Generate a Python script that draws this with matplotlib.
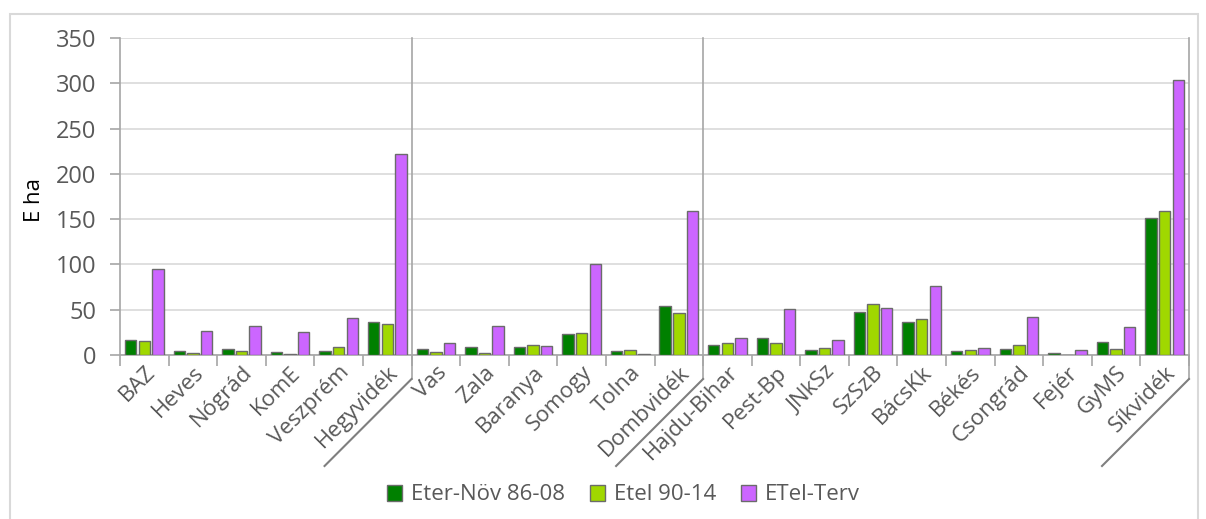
import matplotlib
matplotlib.use("Agg")
import matplotlib.pyplot as plt
import numpy as np
from matplotlib.patches import Rectangle
from matplotlib.lines import Line2D

categories = ["BAZ", "Heves", "Nógrád", "KomE", "Veszprém", "Hegyvidék",
              "Vas", "Zala", "Baranya", "Somogy", "Tolna", "Dombvidék",
              "Hajdu-Bihar", "Pest-Bp", "JNkSz", "SzSzB", "BácsKk", "Békés",
              "Csongrád", "Fejér", "GyMS", "Síkvidék"]
eter_nov = [16.5, 4.8, 6.6, 3.7, 4.8, 36.8,
            6.6, 9.2, 9.2, 23.2, 4.8, 54.4,
            11.4, 18.4, 5.5, 47.0, 36.8, 4.8, 7.0, 2.2, 14.3, 151.0]
etel = [15.8, 2.2, 4.8, 1.1, 8.5, 33.8,
        3.3, 2.2, 11.0, 23.9, 5.5, 46.3,
        13.2, 13.6, 8.1, 56.3, 39.7, 5.9, 11.0, 0.4, 7.0, 159.0]
etel_terv = [95.2, 26.5, 32.0, 25.7, 40.8, 221.5,
             13.6, 31.6, 10.3, 100.4, 0.7, 159.0,
             18.8, 50.7, 16.9, 51.8, 76.1, 7.7, 41.5, 5.5, 31.3, 304.0]
series_names = ["Eter-Növ 86-08", "Etel 90-14", "ETel-Terv"]
group_ends = [5, 11, 21]  # index of group summary categories

colors = ["#008000", "#a0d800", "#cc66ff"]
text_color = "#595959"

plt.rcParams['font.family'] = ['Open Sans', 'DejaVu Sans']

W, H = 1206, 519
fig = plt.figure(figsize=(W / 100, H / 100), dpi=100)
ax = fig.add_axes([120 / W, 1 - 355 / H, (1189 - 120) / W, (355 - 38) / H])

x = np.arange(len(categories))
offset = 0.28
width = 0.235
for k, (vals, c, name) in enumerate(zip([eter_nov, etel, etel_terv], colors, series_names)):
    ax.bar(x + (k - 1) * offset, vals, width, color=c, edgecolor="#6b6b6b",
           linewidth=1.0, label=name, zorder=3)

ax.set_xlim(-0.5, len(categories) - 0.5)
ax.set_ylim(0, 350)
ax.set_yticks(np.arange(0, 351, 50))
ax.yaxis.grid(True, color="#d9d9d9", linewidth=1.2, zorder=0)
ax.set_axisbelow(True)

for s in ["top", "right"]:
    ax.spines[s].set_visible(False)
for s in ["left", "bottom"]:
    ax.spines[s].set_color("#a6a6a6")
    ax.spines[s].set_linewidth(1.2)

ax.tick_params(axis="y", colors="#a6a6a6", labelcolor=text_color, labelsize=17,
               length=7, width=1.2, pad=10)
ax.set_xticks(x)
ax.set_xticklabels(categories, rotation=45, ha="right", va="top",
                   rotation_mode="anchor", fontsize=16, color=text_color)
ax.tick_params(axis="x", which="major", length=0, pad=5)
ax.set_xticks(np.arange(-0.5, len(categories), 1.0), minor=True)
ax.tick_params(axis="x", which="minor", length=8, width=1.2, colors="#a6a6a6")

# group separators with underline diagonals
fig.canvas.draw()
sep_color = "#a6a6a6"
diag_color = "#7f7f7f"
for gi in group_ends:
    xd = gi + 0.5
    top = ax.transData.transform((xd, 350))
    bot = ax.transData.transform((xd, 0))
    x0 = top[0]
    y_top = top[1]
    y_low = bot[1] - 24
    fig.add_artist(Line2D([x0 / W, x0 / W], [y_top / H, y_low / H], color=sep_color,
                          linewidth=1.2, transform=fig.transFigure))
    fig.add_artist(Line2D([x0 / W, (x0 - 87) / W], [y_low / H, (y_low - 87) / H],
                          color=diag_color, linewidth=1.5, transform=fig.transFigure))

fig.text(35 / W, 1 - 200 / H, "E ha", rotation=90, ha="center", va="center",
         fontsize=16, color="#000000")

leg = fig.legend(loc="center", bbox_to_anchor=(0.517, 1 - 495 / H), ncol=3,
                 frameon=False, fontsize=16, handlelength=0.7, handleheight=0.7,
                 handletextpad=0.4, columnspacing=1.1, labelcolor=text_color)

fig.add_artist(Rectangle((10 / W, -0.01), (1198 - 10) / W, 1.01 - 14 / H,
                         transform=fig.transFigure, fill=False,
                         edgecolor="#d9d9d9", linewidth=1.5))

fig.savefig("out.png", dpi=100)
